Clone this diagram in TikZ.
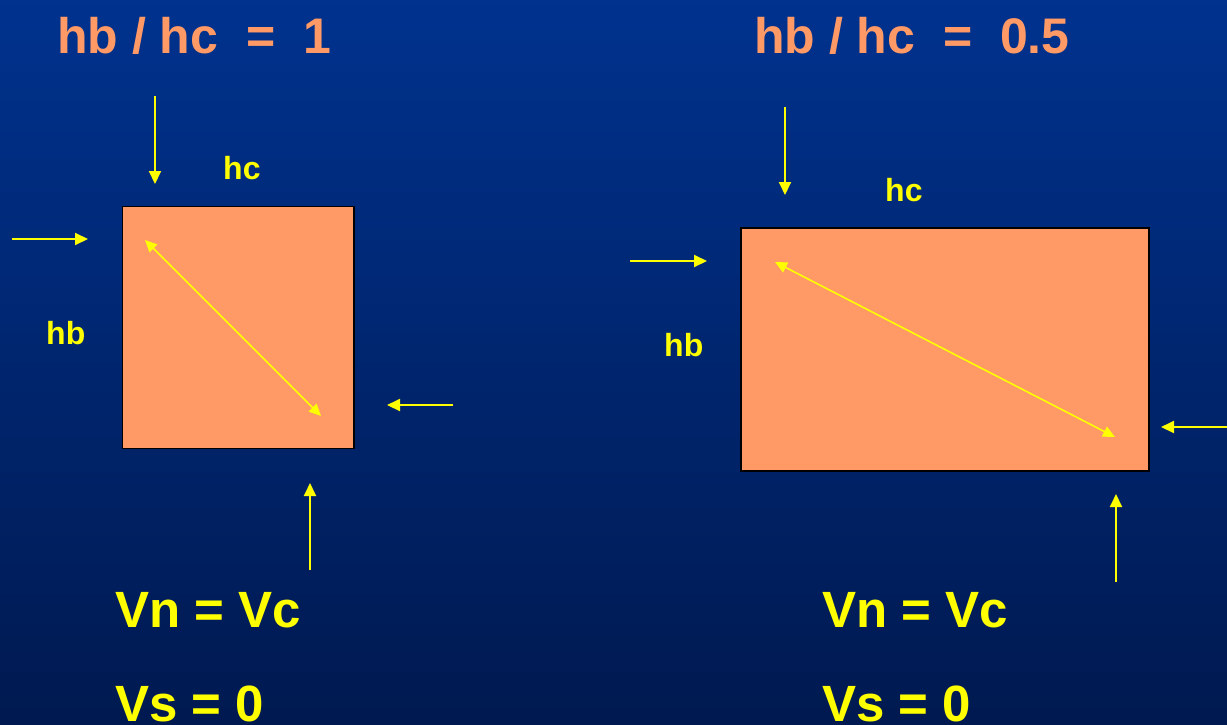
\documentclass[tikz,border=0pt]{standalone}
\usepackage{fontspec}
\setmainfont{Liberation Sans}
\usetikzlibrary{arrows.meta}
\definecolor{bgtop}{RGB}{0,50,142}
\definecolor{bgbot}{RGB}{0,25,80}
\definecolor{salmon}{RGB}{255,153,102}
\definecolor{yel}{RGB}{255,255,0}
\begin{document}
\begin{tikzpicture}[x=1pt,y=-1pt,
  titletext/.style={text=salmon,font=\bfseries\fontsize{50}{60}\selectfont,anchor=base west,inner sep=0pt},
  bigtext/.style={text=yel,font=\bfseries\fontsize{51}{60}\selectfont,anchor=base west,inner sep=0pt},
  smalltext/.style={text=yel,font=\bfseries\fontsize{32}{38}\selectfont,anchor=base west,inner sep=0pt},
  block/.style={draw=black,line width=1.5pt,fill=salmon,minimum width=#1,inner sep=0pt},
  force/.style={draw=yel,line width=2pt,-{Triangle[length=13pt,width=12pt]}},
  strut/.style={draw=yel,line width=1.6pt,{Triangle[length=12pt,width=11pt]}-{Triangle[length=12pt,width=11pt]}}
]
\shade[top color=bgtop,bottom color=bgbot] (0,0) rectangle (1227,724);
\useasboundingbox (0,0) rectangle (1227,724);

% ---------- left panel ----------
\node[titletext] (tL) at (57,53) {hb / hc\ \ =\ \ 1};
\node[block=231.5pt,minimum height=242pt] (sqL) at (238.25,327.5) {};
\node[smalltext] (hcL) at (223,179) {hc};
\node[smalltext] (hbL) at (46,344) {hb};
\node[bigtext] (vnL) at (115,627) {Vn = Vc};
\node[bigtext] (vsL) at (115,721) {Vs = 0};

\coordinate (dTopL) at (155,96);  \coordinate (dTipL) at (155,184);
\coordinate (lTailL) at (12,239); \coordinate (lTipL) at (88,239);
\coordinate (rTailL) at (453,405); \coordinate (rTipL) at (387,405);
\coordinate (uTailL) at (310,570); \coordinate (uTipL) at (310,483);
\coordinate (diagAL) at (145,240); \coordinate (diagBL) at (321,416);

\draw[force] (dTopL) -- (dTipL);
\draw[force] (lTailL) -- (lTipL);
\draw[force] (rTailL) -- (rTipL);
\draw[force] (uTailL) -- (uTipL);
\draw[strut] (diagAL) -- (diagBL);

% ---------- right panel ----------
\node[titletext] (tR) at (754,53) {hb / hc\ \ =\ \ 0.5};
\node[block=408pt,minimum height=243pt] (sqR) at (945,349.5) {};
\node[smalltext] (hcR) at (885,201) {hc};
\node[smalltext] (hbR) at (664,356) {hb};
\node[bigtext] (vnR) at (822,627) {Vn = Vc};
\node[bigtext] (vsR) at (822,721) {Vs = 0};

\coordinate (dTopR) at (785,107);  \coordinate (dTipR) at (785,195);
\coordinate (lTailR) at (630,261); \coordinate (lTipR) at (707,261);
\coordinate (rTailR) at (1227,427); \coordinate (rTipR) at (1161,427);
\coordinate (uTailR) at (1116,582); \coordinate (uTipR) at (1116,494);
\coordinate (diagAR) at (775,262); \coordinate (diagBR) at (1115,437);

\draw[force] (dTopR) -- (dTipR);
\draw[force] (lTailR) -- (lTipR);
\draw[force] (rTailR) -- (rTipR);
\draw[force] (uTailR) -- (uTipR);
\draw[strut] (diagAR) -- (diagBR);
\end{tikzpicture}
\end{document}
